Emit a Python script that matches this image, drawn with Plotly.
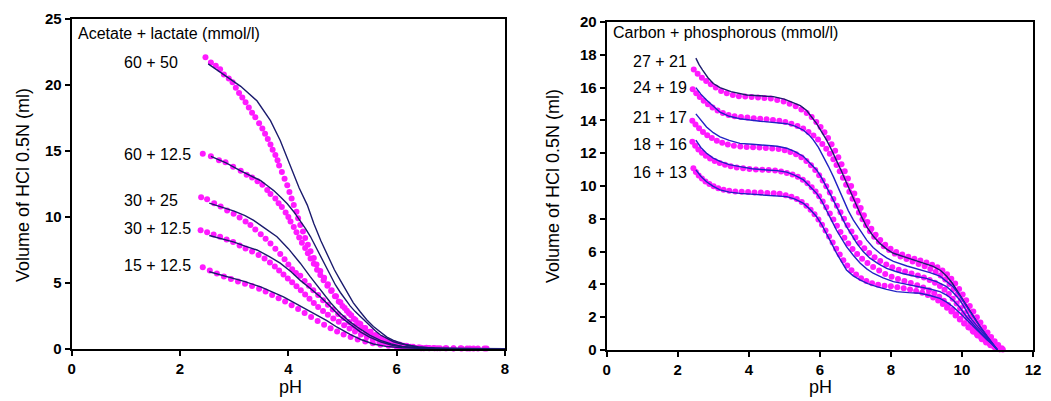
import plotly.graph_objects as go

# ---------------- Left panel: Acetate + lactate (mmol/l) ----------------
ac_labels = ["60 + 50", "60 + 12.5", "30 + 25", "30 + 12.5", "15 + 12.5"]

ac_60_50_dots = [(2.47,22.1),(2.57,21.7),(2.66,21.45),(2.74,21.2),(2.81,20.8),(2.90,20.5),(2.97,20.2),(3.03,19.8),
    (3.09,19.4),(3.15,19.05),(3.21,18.7),(3.27,18.3),(3.33,17.9),(3.39,17.55),(3.46,17.1),(3.52,16.7),(3.57,16.3),
    (3.62,15.9),(3.67,15.5),(3.71,15.1),(3.76,14.7),(3.80,14.3),(3.83,13.9),(3.88,13.4),(3.93,12.9),(3.98,12.4),
    (4.02,11.9),(4.06,11.4),(4.10,10.9),(4.15,10.4),(4.18,9.9),(4.22,9.4),(4.27,8.9),(4.31,8.4),(4.36,7.9),(4.41,7.4),
    (4.47,6.9),(4.52,6.4),(4.59,5.9),(4.66,5.4),(4.73,4.9),(4.80,4.45),(4.88,4.0),(4.96,3.55),(5.04,3.1),(5.12,2.7),
    (5.21,2.3),(5.30,1.95),(5.40,1.6),(5.50,1.3),(5.60,1.05),(5.71,0.82),(5.82,0.62),(5.94,0.45),(6.06,0.33),
    (6.18,0.24),(6.30,0.17),(6.42,0.12),(6.55,0.09),(6.68,0.07),(6.80,0.06),(6.92,0.05),(7.05,0.05),(7.18,0.05),
    (7.30,0.04),(7.42,0.04),(7.62,0.04)]
ac_60_50_line = [(2.52,21.6),(2.81,20.8),(3.12,19.9),(3.42,18.8),(3.67,17.3),(3.85,15.8),(4.02,14.0),(4.2,12.2),
    (4.35,10.9),(4.47,9.5),(4.6,8.2),(4.71,7.2),(4.85,6.0),(4.96,5.2),(5.08,4.3),(5.2,3.5),(5.33,2.8),(5.45,2.2),
    (5.57,1.7),(5.7,1.25),(5.82,0.9),(5.94,0.65),(6.07,0.45),(6.19,0.3),(6.4,0.15),(6.7,0.07),(7.2,0.03),(8.0,0.02)]

ac_60_12_dots = [(2.42,14.8),(2.57,14.6),(2.72,14.3),(2.84,14.15),(2.98,13.8),(3.12,13.5),(3.23,13.2),(3.33,13.0),
    (3.43,12.7),(3.52,12.45),(3.61,12.05),(3.67,11.75),(3.76,11.4),(3.82,11.05),(3.88,10.75),(3.95,10.35),(4.0,10.0),
    (4.04,9.65),(4.1,9.25),(4.15,8.85),(4.2,8.45),(4.25,8.05),(4.31,7.65),(4.36,7.25),(4.41,6.85),(4.47,6.45),
    (4.53,6.0),(4.59,5.6),(4.65,5.2),(4.72,4.8),(4.79,4.4),(4.86,4.0),(4.93,3.6),(5.0,3.25),(5.08,2.9),(5.16,2.55),
    (5.24,2.2),(5.33,1.9),(5.42,1.6),(5.52,1.3),(5.62,1.05),(5.72,0.82),(5.83,0.62),(5.94,0.45),(6.06,0.32),
    (6.18,0.22),(6.3,0.15),(6.45,0.1),(6.6,0.07),(6.75,0.05),(6.9,0.05),(7.05,0.04),(7.2,0.04),(7.35,0.04),
    (7.5,0.04),(7.66,0.04)]
ac_60_12_line = [(2.57,14.6),(2.85,14.1),(3.12,13.5),(3.3,13.15),(3.49,12.75),(3.62,12.35),(3.73,12.0),(3.86,11.5),
    (3.98,11.0),(4.1,10.4),(4.22,9.74),(4.32,9.1),(4.41,8.5),(4.5,7.8),(4.59,7.05),(4.69,6.25),(4.78,5.5),(4.87,4.85),
    (4.96,4.28),(5.05,3.75),(5.14,3.27),(5.23,2.85),(5.33,2.45),(5.42,2.1),(5.51,1.76),(5.6,1.4),(5.7,1.06),
    (5.82,0.78),(5.94,0.55),(6.07,0.4),(6.19,0.3),(6.4,0.15),(6.7,0.07),(7.2,0.03),(8.0,0.02)]

ac_30_25_dots = [(2.39,11.5),(2.5,11.35),(2.63,11.05),(2.75,10.8),(2.87,10.5),(2.99,10.25),(3.1,9.97),(3.21,9.65),
    (3.3,9.4),(3.39,9.05),(3.49,8.7),(3.58,8.35),(3.67,8.0),(3.76,7.6),(3.85,7.2),(3.93,6.8),(4.0,6.4),(4.07,6.05),
    (4.14,5.75),(4.22,5.55),(4.3,5.15),(4.38,4.8),(4.46,4.45),(4.55,4.1),(4.64,3.7),(4.73,3.35),(4.82,3.0),
    (4.92,2.65),(5.02,2.35),(5.12,2.05),(5.22,1.75),(5.32,1.5),(5.43,1.25),(5.54,1.02),(5.65,0.82),(5.76,0.64),
    (5.88,0.48),(6.0,0.35),(6.13,0.25),(6.26,0.17),(6.4,0.11),(6.55,0.07),(6.7,0.05)]
ac_30_25_line = [(2.54,11.05),(2.8,10.7),(3.0,10.45),(3.2,10.1),(3.36,9.74),(3.55,9.2),(3.79,8.5),(4.0,7.6),
    (4.22,6.5),(4.4,5.5),(4.59,4.46),(4.78,3.5),(4.96,2.7),(5.14,2.05),(5.33,1.5),(5.5,1.05),(5.7,0.65),(5.9,0.38),
    (6.1,0.2),(6.4,0.1),(6.8,0.05),(7.4,0.03),(8.0,0.02)]

ac_30_12_dots = [(2.38,9.0),(2.5,8.85),(2.62,8.68),(2.74,8.5),(2.86,8.3),(2.98,8.1),(3.1,7.85),(3.21,7.62),
    (3.33,7.38),(3.45,7.12),(3.56,6.85),(3.66,6.55),(3.75,6.25),(3.83,5.95),(3.91,5.65),(3.99,5.35),(4.07,5.05),
    (4.15,4.75),(4.23,4.45),(4.31,4.12),(4.39,3.8),(4.47,3.48),(4.55,3.18),(4.64,2.88),(4.73,2.6),(4.83,2.32),
    (4.93,2.06),(5.03,1.8),(5.13,1.56),(5.23,1.33),(5.34,1.1),(5.45,0.9),(5.56,0.72),(5.68,0.55),(5.8,0.4),
    (5.93,0.28),(6.07,0.19),(6.21,0.12),(6.36,0.08),(6.5,0.05)]
ac_30_12_line = [(2.54,8.6),(2.8,8.35),(3.0,8.1),(3.2,7.8),(3.42,7.5),(3.65,7.0),(3.85,6.5),(4.05,5.85),(4.22,5.2),
    (4.4,4.6),(4.59,3.95),(4.78,3.2),(4.96,2.44),(5.15,1.85),(5.33,1.3),(5.5,0.9),(5.7,0.55),(5.9,0.3),(6.1,0.17),
    (6.4,0.08),(6.8,0.04),(7.4,0.02),(8.0,0.02)]

ac_15_12_dots = [(2.42,6.2),(2.55,5.95),(2.68,5.72),(2.81,5.5),(2.94,5.3),(3.07,5.12),(3.2,4.95),(3.33,4.78),
    (3.46,4.57),(3.58,4.35),(3.7,4.1),(3.82,3.85),(3.94,3.6),(4.06,3.32),(4.18,3.03),(4.3,2.72),(4.42,2.42),
    (4.54,2.12),(4.66,1.84),(4.78,1.57),(4.9,1.32),(5.02,1.1),(5.15,0.9),(5.28,0.72),(5.42,0.56),(5.56,0.43),
    (5.7,0.33),(5.85,0.24),(6.0,0.17),(6.15,0.12),(6.3,0.08),(6.45,0.06),(6.6,0.05)]
ac_15_12_line = [(2.54,5.85),(2.8,5.55),(3.0,5.3),(3.2,5.1),(3.49,4.7),(3.7,4.35),(3.91,3.95),(4.13,3.45),
    (4.35,2.95),(4.53,2.55),(4.71,2.15),(4.9,1.65),(5.14,1.1),(5.35,0.7),(5.57,0.38),(5.8,0.2),(6.1,0.1),
    (6.5,0.05),(7.0,0.03),(8.0,0.02)]

ac_dots = [ac_60_50_dots, ac_60_12_dots, ac_30_25_dots, ac_30_12_dots, ac_15_12_dots]
ac_lines = [ac_60_50_line, ac_60_12_line, ac_30_25_line, ac_30_12_line, ac_15_12_line]
ac_label_y = [21.7, 14.7, 11.25, 9.14, 6.34]

# ---------------- Right panel: Carbon + phosphorous (mmol/l) ----------------
cp_labels = ["27 + 21", "24 + 19", "21 + 17", "18 + 16", "16 + 13"]

cp_27_21_dots = [(2.45,17.1),(2.56,16.85),(2.68,16.6),(2.8,16.4),(2.93,16.2),(3.07,16.0),(3.22,15.8),(3.38,15.65),
    (3.55,15.55),(3.72,15.48),(3.9,15.45),(4.08,15.42),(4.26,15.4),(4.44,15.37),(4.62,15.33),(4.8,15.25),
    (4.98,15.15),(5.15,15.02),(5.32,14.87),(5.48,14.67),(5.63,14.45),(5.77,14.2),(5.9,13.9),(6.02,13.6),
    (6.13,13.27),(6.23,12.92),(6.33,12.55),(6.43,12.15),(6.52,11.75),(6.61,11.33),(6.7,10.9),(6.79,10.45),
    (6.88,10.0),(6.97,9.55),(7.06,9.1),(7.15,8.66),(7.24,8.22),(7.34,7.8),(7.45,7.4),(7.57,7.02),(7.7,6.7),
    (7.84,6.42),(7.99,6.18),(8.15,5.98),(8.32,5.82),(8.49,5.69),(8.66,5.57),(8.83,5.45),(9.0,5.33),(9.16,5.2),
    (9.31,5.04),(9.45,4.85),(9.58,4.62),(9.7,4.35),(9.81,4.05),(9.92,3.72),(10.02,3.38),(10.12,3.03),(10.22,2.68),
    (10.32,2.34),(10.42,2.0),(10.52,1.68),(10.62,1.37),(10.72,1.07),(10.82,0.79),(10.92,0.53),(11.02,0.3),(11.12,0.1)]
cp_27_21_line = [(2.51,17.8),(2.6,17.4),(2.7,17.07),(2.85,16.6),(3.0,16.25),(3.19,16.0),(3.5,15.75),(3.94,15.55),
    (4.3,15.5),(4.69,15.45),(5.0,15.3),(5.25,15.1),(5.45,14.9),(5.63,14.6),(5.78,14.2),(5.91,13.8),(6.05,13.3),
    (6.19,12.8),(6.33,12.2),(6.47,11.6),(6.61,10.9),(6.75,10.2),(6.9,9.45),(7.04,8.7),(7.18,8.1),(7.32,7.5),
    (7.5,6.95),(7.69,6.5),(7.88,6.15),(8.07,5.9),(8.35,5.7),(8.63,5.5),(8.9,5.33),(9.19,5.1),(9.4,4.85),(9.57,4.5),
    (9.72,4.1),(9.85,3.66),(10.0,3.15),(10.13,2.64),(10.32,2.0),(10.51,1.42),(10.7,0.85),(10.88,0.3),(11.0,0.0)]

cp_24_19_dots = [(2.42,15.9),(2.52,15.65),(2.62,15.42),(2.73,15.2),(2.85,14.98),(2.98,14.78),(3.12,14.6),
    (3.27,14.45),(3.43,14.33),(3.6,14.25),(3.78,14.2),(3.96,14.17),(4.14,14.13),(4.32,14.1),(4.5,14.07),(4.68,14.03),
    (4.86,13.98),(5.03,13.9),(5.2,13.8),(5.37,13.66),(5.53,13.5),(5.68,13.3),(5.82,13.08),(5.95,12.83),(6.07,12.56),
    (6.18,12.27),(6.28,11.96),(6.38,11.63),(6.47,11.28),(6.56,10.9),(6.65,10.5),(6.74,10.08),(6.83,9.65),(6.92,9.22),
    (7.01,8.8),(7.1,8.38),(7.2,7.98),(7.3,7.6),(7.41,7.24),(7.53,6.9),(7.66,6.6),(7.8,6.33),(7.95,6.09),(8.11,5.88),
    (8.27,5.7),(8.44,5.55),(8.61,5.4),(8.78,5.25),(8.95,5.1),(9.11,4.94),(9.26,4.76),(9.4,4.55),(9.53,4.3),
    (9.65,4.02),(9.76,3.72),(9.87,3.4),(9.97,3.06),(10.07,2.72),(10.17,2.38),(10.27,2.05),(10.37,1.73),(10.47,1.42),
    (10.57,1.12),(10.67,0.84),(10.77,0.58),(10.87,0.35),(10.97,0.15),(11.07,0.05)]
cp_24_19_line = [(2.51,16.0),(2.65,15.6),(2.81,15.24),(3.0,14.85),(3.19,14.5),(3.45,14.25),(3.75,14.1),(4.32,13.95),
    (4.7,13.88),(5.07,13.8),(5.3,13.65),(5.54,13.4),(5.7,13.1),(5.82,12.8),(5.96,12.35),(6.1,11.8),(6.24,11.2),
    (6.38,10.57),(6.52,9.85),(6.66,9.15),(6.8,8.5),(6.94,7.93),(7.13,7.3),(7.32,6.7),(7.5,6.25),(7.69,5.9),
    (7.88,5.62),(8.07,5.4),(8.45,5.12),(8.82,4.9),(9.1,4.72),(9.38,4.5),(9.57,4.2),(9.75,3.86),(9.94,3.3),
    (10.13,2.64),(10.32,2.03),(10.51,1.42),(10.7,0.85),(10.88,0.3),(11.0,0.0)]

cp_21_17_dots = [(2.41,13.98),(2.5,13.75),(2.6,13.52),(2.71,13.3),(2.83,13.1),(2.96,12.92),(3.1,12.76),(3.25,12.63),
    (3.41,12.53),(3.58,12.46),(3.76,12.41),(3.94,12.38),(4.12,12.36),(4.3,12.34),(4.48,12.32),(4.66,12.29),
    (4.84,12.25),(5.01,12.18),(5.17,12.08),(5.33,11.94),(5.48,11.75),(5.62,11.52),(5.75,11.26),(5.87,10.97),
    (5.98,10.66),(6.08,10.33),(6.18,9.98),(6.28,9.6),(6.38,9.2),(6.48,8.8),(6.58,8.4),(6.68,8.0),(6.78,7.6),
    (6.89,7.22),(7.0,6.86),(7.12,6.52),(7.25,6.2),(7.39,5.92),(7.54,5.66),(7.7,5.43),(7.87,5.22),(8.04,5.04),
    (8.22,4.9),(8.4,4.78),(8.58,4.67),(8.76,4.55),(8.93,4.42),(9.09,4.27),(9.24,4.1),(9.38,3.9),(9.51,3.67),
    (9.63,3.41),(9.74,3.13),(9.85,2.84),(9.95,2.54),(10.05,2.24),(10.15,1.95),(10.25,1.67),(10.35,1.39),
    (10.46,1.12),(10.57,0.86),(10.68,0.62),(10.79,0.4),(10.9,0.22),(11.01,0.08)]
cp_21_17_line = [(2.51,14.4),(2.65,14.0),(2.81,13.6),(3.0,13.25),(3.19,13.0),(3.45,12.78),(3.75,12.6),(4.1,12.55),
    (4.5,12.5),(4.8,12.42),(5.07,12.3),(5.3,12.1),(5.54,11.8),(5.72,11.42),(5.91,10.98),(6.05,10.5),(6.19,9.96),
    (6.33,9.35),(6.47,8.74),(6.61,8.1),(6.75,7.52),(6.9,7.0),(7.04,6.5),(7.22,6.0),(7.41,5.6),(7.65,5.25),
    (7.88,4.98),(8.12,4.8),(8.35,4.65),(8.68,4.5),(9.0,4.37),(9.3,4.15),(9.57,3.86),(9.75,3.5),(9.94,3.05),
    (10.08,2.55),(10.22,2.0),(10.41,1.5),(10.6,1.0),(10.75,0.6),(10.88,0.3),(11.0,0.0)]

cp_18_16_dots = [(2.41,12.7),(2.49,12.45),(2.58,12.22),(2.68,12.02),(2.79,11.84),(2.91,11.68),(3.04,11.53),
    (3.18,11.4),(3.33,11.29),(3.49,11.2),(3.66,11.13),(3.84,11.08),(4.02,11.04),(4.2,11.01),(4.38,10.99),
    (4.56,10.97),(4.74,10.94),(4.91,10.88),(5.07,10.8),(5.23,10.7),(5.38,10.56),(5.52,10.38),(5.65,10.17),
    (5.77,9.93),(5.88,9.66),(5.98,9.37),(6.08,9.05),(6.18,8.7),(6.28,8.33),(6.38,7.95),(6.48,7.57),(6.58,7.2),
    (6.69,6.84),(6.8,6.49),(6.92,6.16),(7.05,5.85),(7.19,5.56),(7.34,5.3),(7.5,5.06),(7.67,4.84),(7.84,4.64),
    (8.02,4.47),(8.2,4.33),(8.38,4.2),(8.56,4.08),(8.74,3.95),(8.91,3.81),(9.07,3.65),(9.22,3.46),(9.36,3.24),
    (9.49,3.0),(9.61,2.74),(9.73,2.46),(9.84,2.18),(9.96,1.9),(10.08,1.63),(10.2,1.37),(10.32,1.12),(10.44,0.88),
    (10.56,0.66),(10.68,0.46),(10.8,0.29),(10.93,0.15),(11.06,0.05)]
cp_18_16_line = [(2.51,12.8),(2.65,12.35),(2.81,12.0),(3.0,11.7),(3.19,11.5),(3.45,11.3),(3.75,11.18),(4.1,11.05),
    (4.5,10.98),(4.8,10.94),(5.07,10.85),(5.3,10.65),(5.54,10.37),(5.72,10.0),(5.91,9.55),(6.05,9.1),(6.19,8.54),
    (6.33,7.9),(6.47,7.3),(6.61,6.78),(6.75,6.3),(6.94,5.78),(7.13,5.3),(7.32,4.95),(7.5,4.68),(7.78,4.4),
    (8.07,4.17),(8.45,4.0),(8.82,3.86),(9.1,3.72),(9.38,3.56),(9.57,3.35),(9.75,3.05),(9.94,2.6),(10.13,2.03),
    (10.32,1.55),(10.51,1.1),(10.7,0.68),(10.88,0.3),(11.0,0.0)]

cp_16_13_dots = [(2.44,11.08),(2.51,10.85),(2.59,10.64),(2.68,10.45),(2.78,10.28),(2.89,10.12),(3.01,9.98),
    (3.14,9.86),(3.29,9.77),(3.45,9.71),(3.62,9.67),(3.8,9.65),(3.98,9.63),(4.16,9.61),(4.34,9.6),(4.52,9.58),
    (4.7,9.56),(4.87,9.52),(5.04,9.44),(5.2,9.34),(5.35,9.2),(5.49,9.02),(5.62,8.8),(5.74,8.55),(5.85,8.27),
    (5.96,7.96),(6.06,7.63),(6.16,7.28),(6.26,6.92),(6.36,6.55),(6.46,6.18),(6.56,5.82),(6.66,5.47),(6.77,5.15),
    (6.89,4.86),(7.02,4.6),(7.16,4.38),(7.31,4.2),(7.47,4.07),(7.64,3.98),(7.82,3.92),(8.0,3.88),(8.18,3.83),
    (8.36,3.77),(8.54,3.69),(8.71,3.6),(8.88,3.49),(9.04,3.36),(9.19,3.2),(9.33,3.02),(9.46,2.81),(9.58,2.58),
    (9.7,2.34),(9.82,2.1),(9.94,1.86),(10.06,1.62),(10.18,1.39),(10.3,1.17),(10.42,0.96),(10.54,0.76),(10.66,0.57),
    (10.78,0.4),(10.9,0.24),(11.03,0.1),(11.15,0.03)]
cp_16_13_line = [(2.51,10.98),(2.65,10.6),(2.81,10.26),(3.0,9.98),(3.19,9.76),(3.45,9.63),(3.75,9.55),(4.1,9.5),
    (4.5,9.45),(4.8,9.4),(5.07,9.35),(5.3,9.2),(5.54,8.94),(5.72,8.58),(5.91,8.13),(6.05,7.65),(6.19,7.1),(6.33,6.5),
    (6.47,5.9),(6.61,5.35),(6.75,4.88),(6.94,4.52),(7.13,4.27),(7.35,4.05),(7.6,3.86),(7.88,3.7),(8.16,3.56),
    (8.5,3.5),(8.82,3.46),(9.1,3.32),(9.38,3.15),(9.57,2.92),(9.75,2.64),(9.94,2.25),(10.13,1.83),(10.32,1.42),
    (10.51,1.0),(10.7,0.62),(10.88,0.3),(11.0,0.0)]

cp_dots = [cp_27_21_dots, cp_24_19_dots, cp_21_17_dots, cp_18_16_dots, cp_16_13_dots]
cp_lines = [cp_27_21_line, cp_24_19_line, cp_21_17_line, cp_18_16_line, cp_16_13_line]
cp_label_y = [17.62, 15.98, 14.2, 12.56, 10.85]

left_xticks = [0, 2, 4, 6, 8]
left_yticks = [0, 5, 10, 15, 20, 25]
right_xticks = [0, 2, 4, 6, 8, 10, 12]
right_yticks = [0, 2, 4, 6, 8, 10, 12, 14, 16, 18, 20]

# ---------------- Figure ----------------
FONT = "Arial, Liberation Sans, Helvetica, sans-serif"
DOT = "#ff1aff"
NAVY = "#1b1b6e"
BLUE = "#2222c4"

fig = go.Figure()

def add_panel(dots, lines, xa, ya, line_colors):
    for d in dots:
        fig.add_trace(go.Scatter(x=[p[0] for p in d], y=[p[1] for p in d], mode="markers",
                                 marker=dict(color=DOT, size=6, line=dict(width=0)),
                                 xaxis=xa, yaxis=ya, cliponaxis=False, showlegend=False))
    for l, c in zip(lines, line_colors):
        fig.add_trace(go.Scatter(x=[p[0] for p in l], y=[p[1] for p in l], mode="lines",
                                 line=dict(color=c, width=1.4),
                                 xaxis=xa, yaxis=ya, showlegend=False))

add_panel(ac_dots, ac_lines, "x", "y", [NAVY] * 5)
add_panel(cp_dots, cp_lines, "x2", "y2", [NAVY, BLUE, BLUE, BLUE, BLUE])

# The page body has an 8px margin, so the figure is drawn offset by (8, 8).
OFF = 8
W, H = 1051 - OFF, 401 - OFF
def px(x):
    return (x - OFF) / W
def py(y):
    return 1 - (y - OFF) / H
def dom_x(a, b):
    return [px(a), px(b)]
def dom_y(top, bottom):
    return [py(bottom), py(top)]

axis_common = dict(showline=True, linecolor="black", linewidth=2, mirror=True, showgrid=False, zeroline=False,
                   ticks="outside", ticklen=5, tickwidth=2, tickcolor="black", automargin=False,
                   tickfont=dict(family=FONT, size=15, color="black", weight="bold"))

fig.update_layout(
    width=W, height=H, margin=dict(l=0, r=0, t=0, b=0, autoexpand=False),
    plot_bgcolor="white", paper_bgcolor="white",
    xaxis=dict(domain=dom_x(71.7, 505), range=[0, 8], tickvals=left_xticks, anchor="y", **axis_common),
    yaxis=dict(domain=dom_y(19, 349), range=[0, 25], tickvals=left_yticks, anchor="x", **axis_common),
    xaxis2=dict(domain=dom_x(606.7, 1033), range=[0, 12], tickvals=right_xticks, anchor="y2", **axis_common),
    yaxis2=dict(domain=dom_y(22, 350), range=[0, 20], tickvals=right_yticks, anchor="x2", **axis_common),
)

ann_font = dict(family=FONT, size=16, color="black")
title_font = dict(family=FONT, size=18, color="black")
annotations = [
    dict(x=0.08, y=23.87, xref="x", yref="y", text="Acetate + lactate (mmol/l)", showarrow=False,
         xanchor="left", yanchor="middle", font=ann_font),
    dict(x=0.12, y=19.33, xref="x2", yref="y2", text="Carbon + phosphorous (mmol/l)", showarrow=False,
         xanchor="left", yanchor="middle", font=ann_font),
    # axis titles
    dict(x=px(290), y=py(387), xref="paper", yref="paper", text="pH", showarrow=False,
         xanchor="center", yanchor="middle", font=title_font),
    dict(x=px(820), y=py(387), xref="paper", yref="paper", text="pH", showarrow=False,
         xanchor="center", yanchor="middle", font=title_font),
    dict(x=px(23), y=py(185), xref="paper", yref="paper", text="Volume of HCl 0.5N (ml)", showarrow=False,
         xanchor="center", yanchor="middle", textangle=-90, font=title_font),
    dict(x=px(553), y=py(186), xref="paper", yref="paper", text="Volume of HCl 0.5N (ml)", showarrow=False,
         xanchor="center", yanchor="middle", textangle=-90, font=title_font),
]
for lab, yv in zip(ac_labels, ac_label_y):
    annotations.append(dict(x=0.93, y=yv, xref="x", yref="y", text=lab, showarrow=False,
                            xanchor="left", yanchor="middle", font=ann_font))
for lab, yv in zip(cp_labels, cp_label_y):
    annotations.append(dict(x=2.32, y=yv, xref="x2", yref="y2", text=lab, showarrow=False,
                            xanchor="right", yanchor="middle", font=ann_font))
fig.update_layout(annotations=annotations)

fig.write_html("out.html")
